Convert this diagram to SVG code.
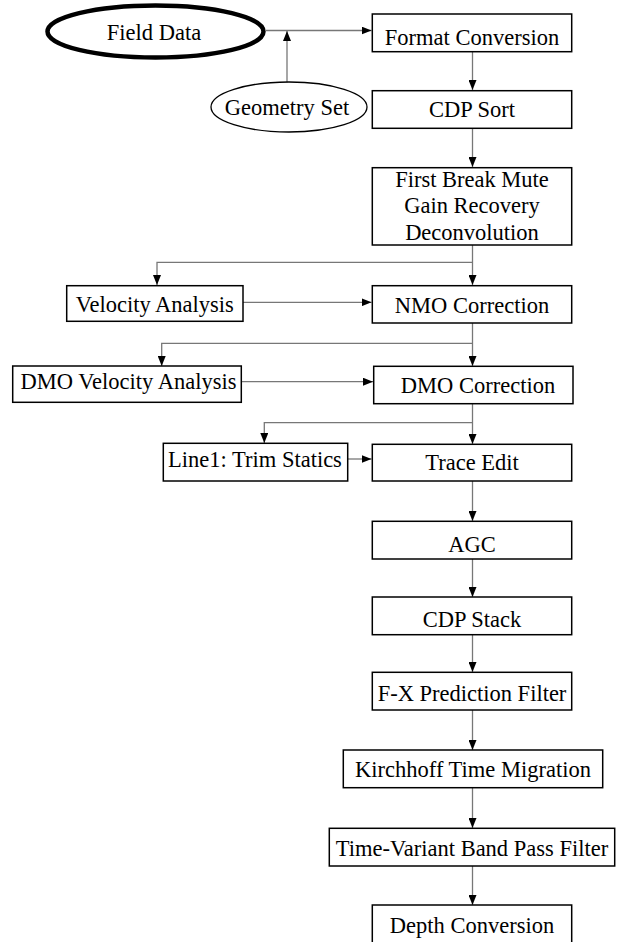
<svg xmlns="http://www.w3.org/2000/svg" width="621" height="942" viewBox="0 0 621 942">
<style>
.box{fill:#fff;stroke:#000;stroke-width:1.5}
.t{font-family:"Liberation Serif","Times New Roman",serif;font-size:22.5px;fill:#000;text-anchor:middle}
.c{fill:none;stroke:#777;stroke-width:1.3}
</style>
<defs>
<marker id="ah" markerUnits="userSpaceOnUse" markerWidth="10" markerHeight="8" refX="10" refY="4" orient="auto">
<path d="M0,0 L10,4 L0,8 z" fill="#000"/>
</marker>
</defs>
<rect width="621" height="942" fill="#fff"/>
<g id="connectors">
<line class="c" x1="266" y1="30.5" x2="371.5" y2="30.5" marker-end="url(#ah)"/>
<line class="c" x1="287" y1="82" x2="287" y2="31" marker-end="url(#ah)"/>
<line class="c" x1="472.5" y1="52" x2="472.5" y2="90" marker-end="url(#ah)"/>
<line class="c" x1="472.5" y1="128.5" x2="472.5" y2="167" marker-end="url(#ah)"/>
<line class="c" x1="472.5" y1="245" x2="472.5" y2="285" marker-end="url(#ah)"/>
<polyline class="c" points="472.5,262.3 157,262.3 157,285" marker-end="url(#ah)"/>
<line class="c" x1="243" y1="302.3" x2="371.5" y2="302.3" marker-end="url(#ah)"/>
<line class="c" x1="472.5" y1="323" x2="472.5" y2="366" marker-end="url(#ah)"/>
<polyline class="c" points="472.5,343.3 161.7,343.3 161.7,366" marker-end="url(#ah)"/>
<line class="c" x1="241.5" y1="381.7" x2="373" y2="381.7" marker-end="url(#ah)"/>
<line class="c" x1="472.5" y1="404" x2="472.5" y2="444" marker-end="url(#ah)"/>
<polyline class="c" points="472.5,422.7 264.3,422.7 264.3,443" marker-end="url(#ah)"/>
<line class="c" x1="348" y1="459" x2="371.5" y2="459" marker-end="url(#ah)"/>
<line class="c" x1="472.5" y1="481" x2="472.5" y2="521" marker-end="url(#ah)"/>
<line class="c" x1="472.5" y1="559" x2="472.5" y2="597" marker-end="url(#ah)"/>
<line class="c" x1="472.5" y1="634.7" x2="472.5" y2="672" marker-end="url(#ah)"/>
<line class="c" x1="472.5" y1="710" x2="472.5" y2="750" marker-end="url(#ah)"/>
<line class="c" x1="472.5" y1="787.7" x2="472.5" y2="828" marker-end="url(#ah)"/>
<line class="c" x1="472.5" y1="866" x2="472.5" y2="905" marker-end="url(#ah)"/>
</g>
<g id="field-data">
<ellipse cx="155.5" cy="31.5" rx="108" ry="26" fill="#fff" stroke="#000" stroke-width="4.5"/>
<text class="t" x="154" y="40">Field Data</text>
</g>
<g id="geometry-set">
<ellipse cx="289" cy="107" rx="78" ry="25" fill="#fff" stroke="#000" stroke-width="1.3"/>
<text class="t" x="287" y="115">Geometry Set</text>
</g>
<g id="format-conversion">
<rect class="box" x="372.3" y="14" width="199.4" height="37.7"/>
<text class="t" x="472" y="44.5">Format Conversion</text>
</g>
<g id="cdp-sort">
<rect class="box" x="372.3" y="90.7" width="199.4" height="37.6"/>
<text class="t" x="472" y="117.3">CDP Sort</text>
</g>
<g id="preprocessing">
<rect class="box" x="372.3" y="167.7" width="199.4" height="77.3"/>
<text class="t" x="472" y="186.7">First Break Mute</text>
<text class="t" x="472" y="212.5">Gain Recovery</text>
<text class="t" x="472" y="239.5">Deconvolution</text>
</g>
<g id="velocity-analysis">
<rect class="box" x="66.7" y="285.7" width="176.3" height="35.6"/>
<text class="t" x="154.8" y="311.5">Velocity Analysis</text>
</g>
<g id="nmo-correction">
<rect class="box" x="372.3" y="285.7" width="199.4" height="37.3"/>
<text class="t" x="472" y="313.3">NMO Correction</text>
</g>
<g id="dmo-velocity-analysis">
<rect class="box" x="12.7" y="366" width="228.6" height="36.3"/>
<text class="t" x="128.5" y="389.3">DMO Velocity Analysis</text>
</g>
<g id="dmo-correction">
<rect class="box" x="373.7" y="366.3" width="199.3" height="37.4"/>
<text class="t" x="478" y="392.7">DMO Correction</text>
</g>
<g id="trim-statics">
<rect class="box" x="163.3" y="443.3" width="184.4" height="37.7"/>
<text class="t" x="255" y="467.3">Line1: Trim Statics</text>
</g>
<g id="trace-edit">
<rect class="box" x="372.3" y="444.3" width="199.4" height="36.7"/>
<text class="t" x="472" y="470">Trace Edit</text>
</g>
<g id="agc">
<rect class="box" x="372.3" y="521.3" width="199.4" height="37.7"/>
<text class="t" x="472" y="551.7">AGC</text>
</g>
<g id="cdp-stack">
<rect class="box" x="372.3" y="597" width="199.4" height="37.7"/>
<text class="t" x="472" y="627.3">CDP Stack</text>
</g>
<g id="fx-prediction-filter">
<rect class="box" x="372.3" y="672.3" width="199.4" height="37.7"/>
<text class="t" x="472" y="700.7">F-X Prediction Filter</text>
</g>
<g id="kirchhoff-time-migration">
<rect class="box" x="343.3" y="750" width="259.4" height="37.7"/>
<text class="t" x="473" y="777.3">Kirchhoff Time Migration</text>
</g>
<g id="band-pass-filter">
<rect class="box" x="329.3" y="828.3" width="285.4" height="37.7"/>
<text class="t" x="472" y="856">Time-Variant Band Pass Filter</text>
</g>
<g id="depth-conversion">
<path d="M372.3,943 V905 H571.7 V943" fill="#fff" stroke="#000" stroke-width="1.5"/>
<text class="t" x="472" y="933.3">Depth Conversion</text>
</g>
</svg>
